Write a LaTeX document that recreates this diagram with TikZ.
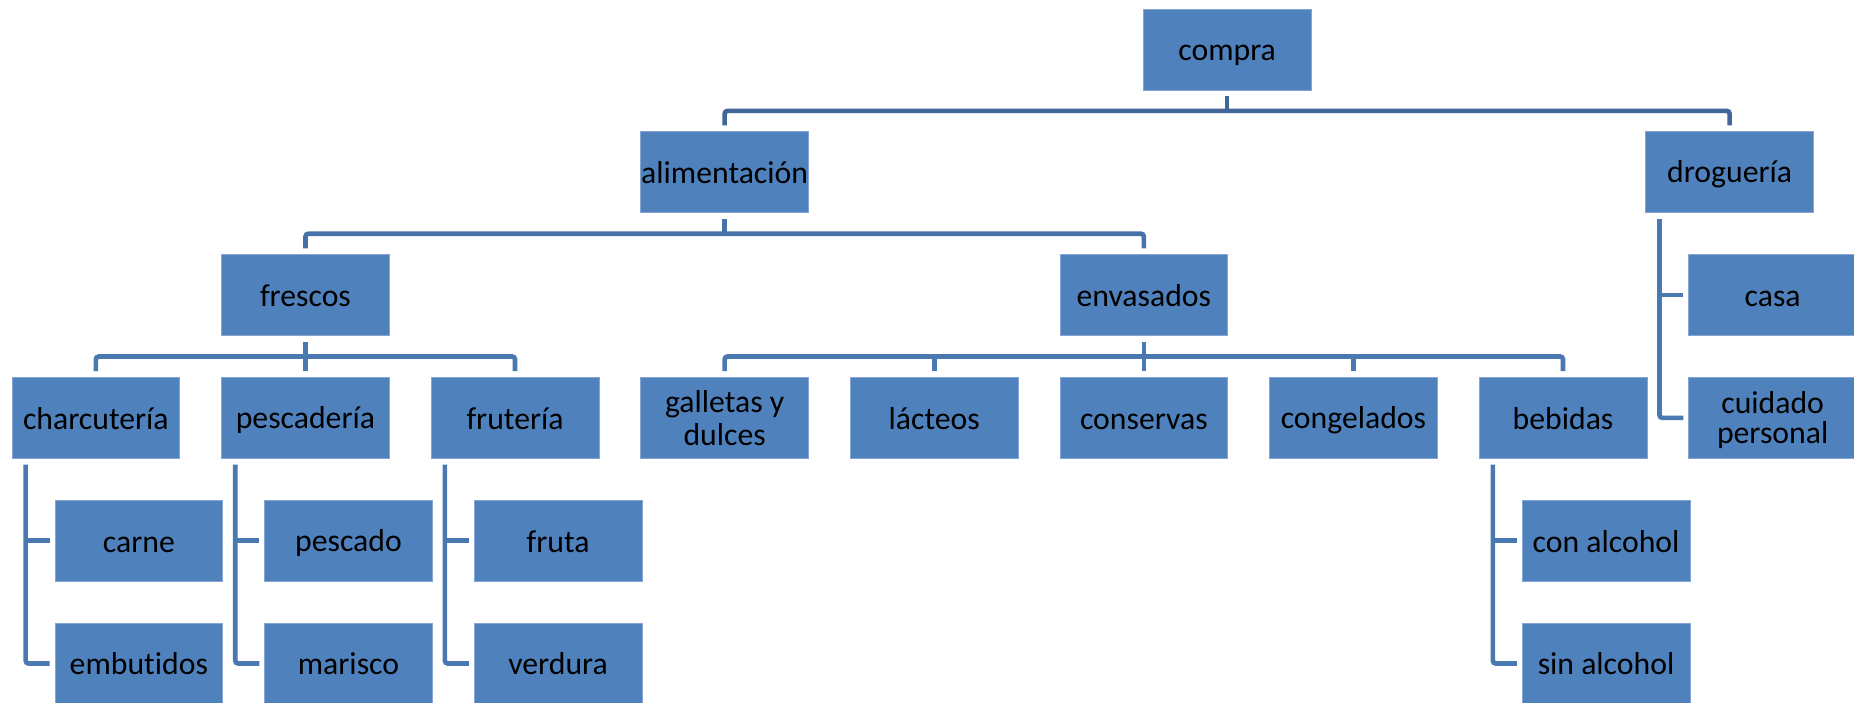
\documentclass[tikz,border=0pt]{standalone}
\usepackage{fontspec}
\setmainfont{Carlito}[Ligatures=NoCommon]
\usetikzlibrary{calc}
\definecolor{boxfill}{HTML}{4F81BD}
\definecolor{boxedge}{HTML}{85A6D4}
\definecolor{linea}{HTML}{41679A}
\definecolor{lineb}{HTML}{4672A9}
\definecolor{linec}{HTML}{4A78B0}
\newcommand\stt{\rule[-2.8pt]{0pt}{22.6pt}}
\newcommand\hangpair[3]{%
  \coordinate (#1v) at ([xshift=10.5pt,yshift=-4.5pt]#1.south west);
  \draw[linec] (#1v) |- ([xshift=-3.75pt]#3.west);
  \draw[linec] (#1v |- #2.west) -- ([xshift=-3.75pt]#2.west);}
\begin{document}
\begin{tikzpicture}[x=0.75pt,y=-0.75pt,
  box/.style={draw=boxedge, line width=0.5pt, fill=boxfill,
    minimum width=125.8pt, minimum height=60.75pt, inner sep=0pt,
    align=center, text=black, font=\fontsize{23.8pt}{22.7pt}\selectfont},
  conn/.style={line width=3.5pt, rounded corners=2.2pt},
  linea/.style={conn, draw=linea},
  lineb/.style={conn, draw=lineb},
  linec/.style={conn, draw=linec}]
\useasboundingbox (0,0) rectangle (1854,703);
\clip (0,0) rectangle (1854,703);
% nodes
\node[box] (compra) at (1227.15,49.5) {\stt compra};
\node[box] (alim) at (724.65,172.3) {\stt alimentación};
\node[box] (drog) at (1729.65,172.3) {\stt droguería};
\node[box] (fres) at (305.45,295.1) {\stt frescos};
\node[box] (env) at (1143.85,295.1) {\stt envasados};
\node[box] (casa) at (1772.65,295.1) {\stt casa};
\node[box] (charc) at (95.85,417.9) {\stt charcutería};
\node[box] (pesc) at (305.45,417.9) {\stt pescadería};
\node[box] (frut) at (515.05,417.9) {\stt frutería};
\node[box] (gall) at (724.65,417.9) {\stt galletas y\\\stt dulces};
\node[box] (lact) at (934.25,417.9) {\stt lácteos};
\node[box] (cons) at (1143.85,417.9) {\stt conservas};
\node[box] (cong) at (1353.45,417.9) {\stt congelados};
\node[box] (beb) at (1563.05,417.9) {\stt bebidas};
\node[box] (cuid) at (1772.65,417.9) {\stt cuidado\\\stt personal};
\node[box] (carne) at (138.85,540.7) {\stt carne};
\node[box] (embu) at (138.85,663.5) {\stt embutidos};
\node[box] (pescado) at (348.45,540.7) {\stt pescado};
\node[box] (marisco) at (348.45,663.5) {\stt marisco};
\node[box] (fruta) at (558.05,540.7) {\stt fruta};
\node[box] (verdura) at (558.05,663.5) {\stt verdura};
\node[box] (conalc) at (1606.05,540.7) {\stt con alcohol};
\node[box] (sinalc) at (1606.05,663.5) {\stt sin alcohol};
% buses
\coordinate (b1) at ($(compra.south)!0.5!(alim.north)$);
\coordinate (b2) at ($(alim.south)!0.5!(fres.north)$);
\coordinate (b3) at ($(fres.south)!0.5!(pesc.north)$);
% level 1
\draw[linea] ([yshift=-4.5pt]compra.south) -- (compra.south |- b1);
\draw[linea] ([yshift=4.5pt]alim.north) -- (alim.north |- b1) -| ([yshift=4.5pt]drog.north);
% level 2
\draw[lineb] ([yshift=-4.5pt]alim.south) -- (alim.south |- b2);
\draw[lineb] ([yshift=4.5pt]fres.north) -- (fres.north |- b2) -| ([yshift=4.5pt]env.north);
% level 3 frescos
\draw[linec] ([yshift=-4.5pt]fres.south) -- ([yshift=4.5pt]pesc.north);
\draw[linec] ([yshift=4.5pt]charc.north) -- (charc.north |- b3) -| ([yshift=4.5pt]frut.north);
% level 3 envasados
\draw[linec] ([yshift=-4.5pt]env.south) -- ([yshift=4.5pt]cons.north);
\draw[linec] ([yshift=4.5pt]gall.north) -- (gall.north |- b3) -| ([yshift=4.5pt]beb.north);
\draw[linec] (lact.north |- b3) -- ([yshift=4.5pt]lact.north);
\draw[linec] (cong.north |- b3) -- ([yshift=4.5pt]cong.north);
% hanging children
\hangpair{drog}{casa}{cuid}
\hangpair{charc}{carne}{embu}
\hangpair{pesc}{pescado}{marisco}
\hangpair{frut}{fruta}{verdura}
\hangpair{beb}{conalc}{sinalc}
\end{tikzpicture}
\end{document}
